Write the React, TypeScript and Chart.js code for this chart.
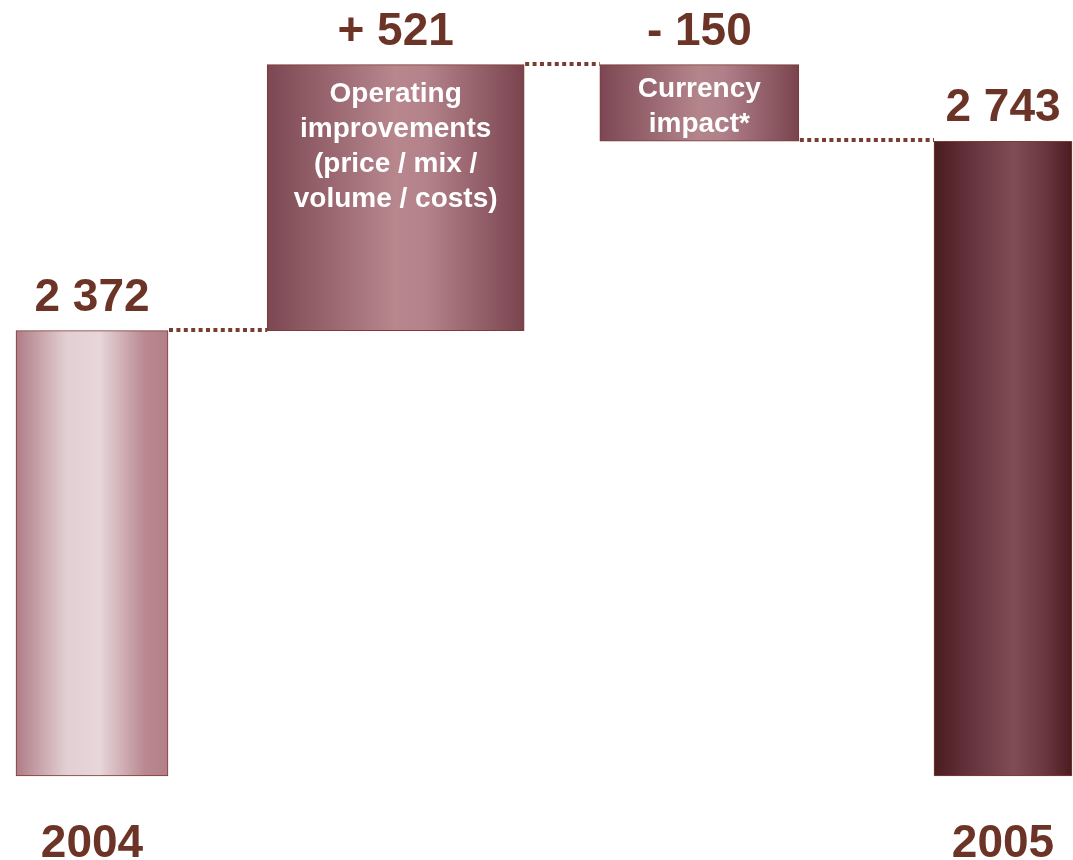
import React, { useEffect, useRef } from 'react';
import { Chart, registerables } from 'chart.js';

Chart.register(...registerables);

// ---- data ----
const categories: string[] = ['2004', '', '', '2005'];
const startValue = 2372;
const changes: number[] = [521, -150];
const endValue = 2743;
const valueLabels: string[] = ['2 372', '+ 521', '- 150', '2 743'];
const innerLabels: string[][] = [
  [],
  ['Operating', 'improvements', '(price / mix /', 'volume / costs)'],
  ['Currency', 'impact*'],
  [],
];
const axisMin = 1500;
const axisMax = 3000;

// ---- styles ----
const FONT = '"Liberation Sans", Arial, Helvetica, sans-serif';
const TEXT_BROWN = '#6B3427';
const BORDER = '#7B3B33';
const DOT = '#7A3C30';

const barStyles = [
  {
    thickness: 152,
    stops: [[0, '#B07C86'], [0.33, '#E2CFD3'], [0.55, '#E7D6DA'], [0.85, '#B98890'], [1, '#B27F89']],
  },
  {
    thickness: 257,
    stops: [[0, '#7C4752'], [0.5, '#B8878E'], [0.62, '#B3828A'], [1, '#7A444F']],
  },
  {
    thickness: 199,
    stops: [[0, '#7C4752'], [0.5, '#B5858C'], [0.62, '#B0808A'], [1, '#7A444E']],
  },
  {
    thickness: 138,
    stops: [[0, '#4A1B1F'], [0.3, '#683640'], [0.58, '#804D56'], [0.8, '#6A3741'], [1, '#4A1C20']],
  },
];

// running totals (levels) after each bar
const levels: number[] = [startValue];
changes.forEach((c) => levels.push(levels[levels.length - 1] + c));

// each bar's value: plain for totals, floating [from, to] for changes
const barValues: (number | [number, number])[] = [
  startValue,
  ...changes.map((c, i) => [levels[i], levels[i] + c] as [number, number]),
  endValue,
];

const gradientFor = (stops: (number | string)[][], thickness: number) => (ctx: any) => {
  const chart = ctx.chart;
  const xs = chart.scales && chart.scales.x;
  if (!xs || ctx.dataIndex === undefined) return stops[0][1];
  const cx = xs.getPixelForValue(ctx.dataIndex);
  if (!isFinite(cx)) return stops[0][1];
  const g = chart.ctx.createLinearGradient(cx - thickness / 2, 0, cx + thickness / 2, 0);
  stops.forEach(([o, c]) => g.addColorStop(o as number, c as string));
  return g;
};

const waterfallPlugin = {
  id: 'waterfallDecor',
  afterDatasetsDraw(chart: any) {
    const { ctx } = chart;
    const ys = chart.scales.y;
    const bars = chart.data.datasets.map((_: any, i: number) => {
      const el = chart.getDatasetMeta(i).data[i];
      const p = el.getProps(['x', 'y', 'base', 'width'], true);
      return {
        x: p.x,
        w: p.width,
        top: Math.min(p.y, p.base),
        bottom: Math.max(p.y, p.base),
      };
    });

    // dotted connectors
    ctx.save();
    ctx.strokeStyle = DOT;
    ctx.lineWidth = 4;
    ctx.setLineDash([4, 3.4]);
    for (let i = 0; i < bars.length - 1; i++) {
      const y = Math.round(ys.getPixelForValue(levels[i])) - 1;
      const x1 = bars[i].x + bars[i].w / 2 + 1;
      const x2 = bars[i + 1].x - bars[i + 1].w / 2;
      ctx.beginPath();
      ctx.moveTo(x1, y);
      ctx.lineTo(x2, y);
      ctx.stroke();
    }
    ctx.restore();

    // value labels above bars
    ctx.save();
    ctx.fillStyle = TEXT_BROWN;
    ctx.font = `bold 46px ${FONT}`;
    ctx.textAlign = 'center';
    ctx.textBaseline = 'alphabetic';
    bars.forEach((b: any, i: number) => {
      ctx.fillText(valueLabels[i], b.x, b.top - 20);
    });
    ctx.restore();

    // inner white labels
    ctx.save();
    ctx.fillStyle = '#FFFFFF';
    ctx.font = `bold 28px ${FONT}`;
    ctx.textAlign = 'center';
    ctx.textBaseline = 'alphabetic';
    const lh = 35;
    bars.forEach((b: any, i: number) => {
      const lines = innerLabels[i];
      if (!lines.length) return;
      const first = Math.min(b.top + 37, b.bottom - 9 - (lines.length - 1) * lh);
      lines.forEach((t, k) => ctx.fillText(t, b.x, first + k * lh));
    });
    ctx.restore();
  },
};

export default function App() {
  const ref = useRef<HTMLCanvasElement | null>(null);

  useEffect(() => {
    if (!ref.current) return;
    const datasets = barValues.map((v, i) => ({
      label: `bar${i}`,
      data: categories.map((_, j) => (j === i ? v : null)),
      base: axisMin,
      barThickness: barStyles[i].thickness,
      backgroundColor: gradientFor(barStyles[i].stops, barStyles[i].thickness),
      borderColor: BORDER,
      borderWidth: 1,
      borderSkipped: false,
      grouped: false,
      clip: false,
    }));

    const chart = new Chart(ref.current, {
      type: 'bar',
      data: { labels: categories, datasets: datasets as any },
      options: {
        animation: false,
        responsive: false,
        events: [],
        layout: { padding: { left: 92, right: 70, top: 10, bottom: 0 } },
        plugins: {
          legend: { display: false },
          tooltip: { enabled: false },
          title: { display: false },
        },
        scales: {
          x: {
            type: 'category',
            offset: false,
            grid: { display: false, drawTicks: false },
            border: { display: false },
            ticks: {
              color: TEXT_BROWN,
              padding: 45,
              autoSkip: false,
              maxRotation: 0,
              font: { family: FONT, size: 46, weight: 'bold', lineHeight: 1 },
            },
            afterFit: (scale: any) => {
              scale.height = 84;
              scale.paddingLeft = 0;
              scale.paddingRight = 0;
            },
          },
          y: {
            type: 'linear',
            display: false,
            min: axisMin,
            max: axisMax,
          },
        },
      },
      plugins: [waterfallPlugin],
    });
    return () => chart.destroy();
  }, []);

  return (
    <div style={{ position: 'fixed', left: 0, top: 0, width: 1073, height: 860, background: '#FFFFFF' }}>
      <canvas ref={ref} width={1073} height={860} style={{ width: 1073, height: 860, display: 'block' }} />
    </div>
  );
}
